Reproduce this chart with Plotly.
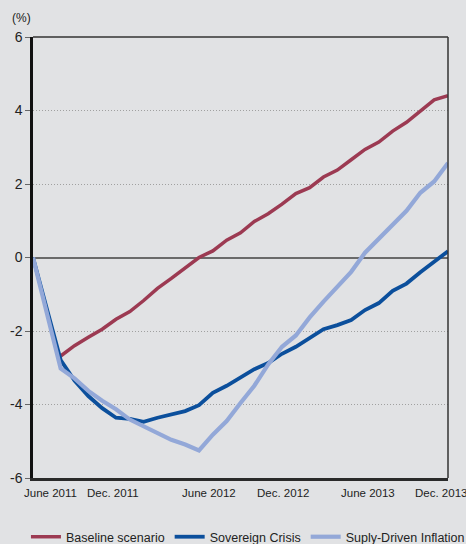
import plotly.graph_objects as go

months = ["Jun 2011", "Jul 2011", "Aug 2011", "Sep 2011", "Oct 2011", "Nov 2011", "Dec 2011",
          "Jan 2012", "Feb 2012", "Mar 2012", "Apr 2012", "May 2012", "Jun 2012",
          "Jul 2012", "Aug 2012", "Sep 2012", "Oct 2012", "Nov 2012", "Dec 2012",
          "Jan 2013", "Feb 2013", "Mar 2013", "Apr 2013", "May 2013", "Jun 2013",
          "Jul 2013", "Aug 2013", "Sep 2013", "Oct 2013", "Nov 2013", "Dec 2013"]

baseline = [None, None, -2.68, -2.40, -2.17, -1.95, -1.68, -1.47, -1.17, -0.84, -0.57, -0.29, 0.0,
            0.18, 0.47, 0.67, 0.98, 1.19, 1.45, 1.74, 1.90, 2.19, 2.38, 2.66, 2.94,
            3.14, 3.44, 3.68, 3.97, 4.29, 4.40]
sovereign = [0.0, -1.42, -2.79, -3.35, -3.77, -4.10, -4.36, -4.39, -4.47, -4.36, -4.26, -4.18, -4.02,
             -3.68, -3.49, -3.27, -3.04, -2.87, -2.62, -2.43, -2.18, -1.95, -1.84, -1.70, -1.43,
             -1.24, -0.91, -0.71, -0.40, -0.13, 0.17]
supply = [0.0, -1.55, -3.02, -3.29, -3.63, -3.90, -4.13, -4.41, -4.60, -4.77, -4.96, -5.09, -5.25,
          -4.82, -4.45, -3.96, -3.49, -2.91, -2.43, -2.12, -1.63, -1.20, -0.81, -0.39, 0.13,
          0.50, 0.90, 1.27, 1.76, 2.07, 2.57]

xlabels = ["June 2011", "Dec. 2011", "June 2012", "Dec. 2012", "June 2013", "Dec. 2013"]
xlabel_pos = [1.3, 5.8, 12.7, 18.1, 24.2, 29.5]
xtick_months = [6, 12, 18, 24, 30]
ytick_vals = [-6, -4, -2, 0, 2, 4, 6]
ytick_text = ["-6", "-4", "-2", "0", "2", "4", "6"]

x = list(range(len(months)))
BG = "#e1e2e4"
FONT = "Liberation Sans, Arial, sans-serif"

fig = go.Figure()
fig.add_trace(go.Scatter(x=x, y=baseline, mode="lines", name="Baseline scenario",
                         line=dict(color="#9c3a52", width=3.5), text=months))
fig.add_trace(go.Scatter(x=x, y=sovereign, mode="lines", name="Sovereign Crisis",
                         line=dict(color="#0b4f9c", width=3.8), text=months))
fig.add_trace(go.Scatter(x=x, y=supply, mode="lines", name="Suply-Driven Inflation",
                         line=dict(color="#93a8d8", width=4.2), text=months))

annotations = [dict(text="(%)", xref="paper", yref="paper", x=-0.027, y=1.022,
                    xanchor="center", yanchor="bottom", showarrow=False,
                    font=dict(size=12, color="#222"))]
for lab, pos in zip(xlabels, xlabel_pos):
    annotations.append(dict(text=lab, xref="x", yref="paper", x=pos, y=-0.016,
                            xanchor="center", yanchor="top", showarrow=False,
                            font=dict(size=11.5, color="#222")))

fig.update_layout(
    width=466, height=544,
    paper_bgcolor=BG, plot_bgcolor=BG,
    margin=dict(l=33, r=18, t=37, b=66, autoexpand=False),
    font=dict(family=FONT, color="#222", size=13),
    showlegend=True,
    legend=dict(orientation="h", x=-0.017, xanchor="left", y=-0.134, yanchor="middle",
                font=dict(size=12.5), bgcolor="rgba(0,0,0,0)", itemwidth=30,
                tracegroupgap=0),
    xaxis=dict(range=[0, 30], showticklabels=False, ticks="", automargin=False,
               showgrid=False, zeroline=False, showline=True, linecolor="#2a2a2a",
               linewidth=2.5, fixedrange=True),
    xaxis2=dict(range=[0, 30], overlaying="x", anchor="free", position=0.5, side="bottom",
                tickvals=xtick_months, ticks="outside", ticklen=4, tickwidth=1,
                tickcolor="#555", showticklabels=False, showgrid=False, zeroline=False,
                showline=False, automargin=False),
    yaxis=dict(range=[-6, 6], tickvals=ytick_vals, ticktext=ytick_text, ticks="outside",
               ticklen=5, tickcolor="#666", tickwidth=1, automargin=False,
               showgrid=True, gridcolor="#a0a0a0", griddash="1px,2px", gridwidth=1,
               zeroline=True, zerolinecolor="#6a6a6a", zerolinewidth=1.5,
               showline=True, linecolor="#111", linewidth=2.5, tickfont=dict(size=14)),
    annotations=annotations,
    shapes=[
        dict(type="line", xref="paper", yref="paper", x0=0, x1=1, y0=1, y1=1,
             line=dict(color="#333", width=1.5)),
        dict(type="line", xref="paper", yref="paper", x0=1, x1=1, y0=0, y1=1,
             line=dict(color="#333", width=1.5)),
    ],
)

fig.write_html("out.html", config={"displayModeBar": False},
               post_script="document.body.style.margin='0';document.body.style.overflow='hidden';document.body.style.background='#e1e2e4';")
